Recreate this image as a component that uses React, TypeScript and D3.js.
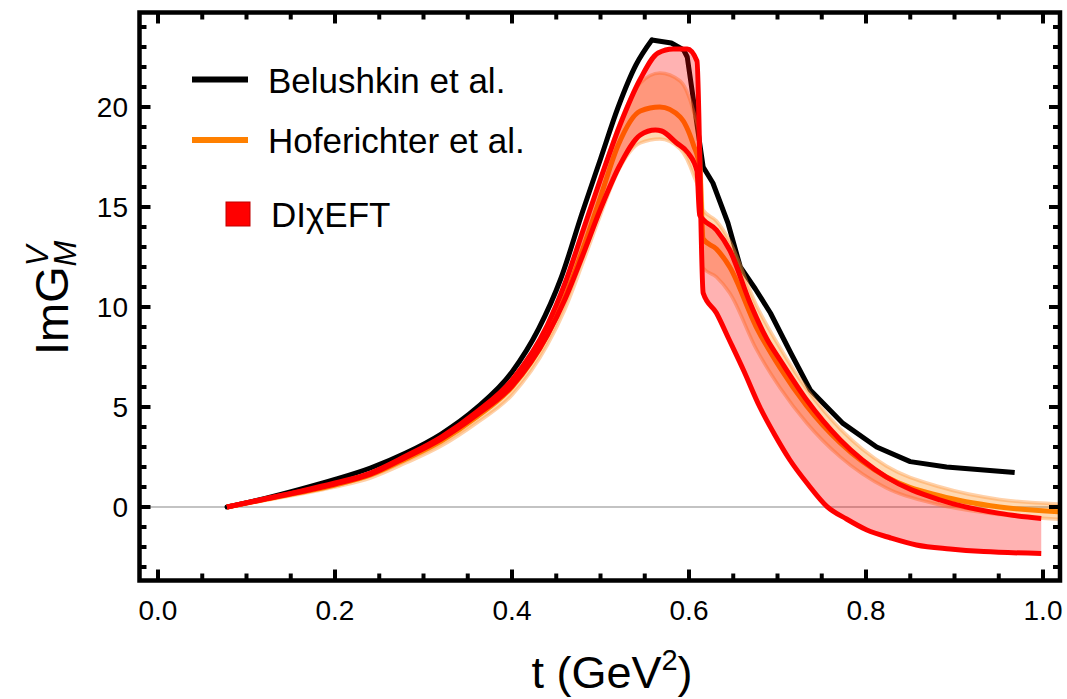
import React from "react";
import * as d3 from "d3";

const W = 1067;
const H = 699;

// axis ticks
const xMajor = [0, 0.2, 0.4, 0.6, 0.8, 1.0];
const xMinor = d3.range(0, 1.001, 0.05);
const yMajor = [0, 5, 10, 15, 20];
const yMinor = d3.range(-3, 24.5, 1);

// Belushkin et al. (rising part is smooth, falling part has visible kinks)
const belRiseT = [0.078, 0.12, 0.16, 0.2, 0.24, 0.28, 0.32, 0.36, 0.4, 0.43, 0.455, 0.48, 0.5, 0.52, 0.54, 0.558];
const belRiseV = [0, 0.42, 0.88, 1.38, 1.95, 2.7, 3.65, 4.95, 6.75, 8.9, 11.4, 14.8, 17.4, 20.0, 22.1, 23.35];
const belFallT = [0.558, 0.58, 0.594, 0.598, 0.616, 0.627, 0.644, 0.658, 0.675, 0.692, 0.715, 0.737, 0.774, 0.812, 0.85, 0.891, 0.968];
const belFallV = [23.35, 23.2, 22.85, 22.5, 17.0, 16.2, 14.2, 12.0, 10.9, 9.7, 7.7, 5.85, 4.18, 3.0, 2.27, 2.0, 1.72];

// Hoferichter et al. (central value and band)
const hofT = [0.078, 0.12, 0.16, 0.2, 0.24, 0.28, 0.32, 0.36, 0.4, 0.44, 0.46, 0.48, 0.5, 0.52, 0.545, 0.567, 0.59, 0.605, 0.612, 0.616, 0.631, 0.646, 0.676, 0.703, 0.733, 0.771, 0.823, 0.884, 0.951, 1.03];
const hofC = [0, 0.37, 0.72, 1.1, 1.6, 2.4, 3.3, 4.5, 6.0, 8.6, 10.5, 12.9, 15.5, 18.1, 19.8, 20.0, 19.5, 18.1, 17.0, 13.4, 12.9, 12.0, 9.0, 6.95, 5.05, 3.2, 1.5, 0.55, 0.0, -0.27];
const hofLo = [0, 0.32, 0.64, 1.0, 1.45, 2.2, 3.05, 4.2, 5.6, 8.1, 9.9, 12.2, 14.6, 16.8, 18.2, 18.4, 17.9, 16.6, 15.6, 11.95, 11.5, 10.7, 7.9, 5.95, 4.2, 2.5, 0.95, 0.1, -0.38, -0.65];
const hofHi = [0, 0.41, 0.78, 1.18, 1.72, 2.55, 3.5, 4.75, 6.3, 9.1, 11.1, 13.6, 16.3, 19.0, 21.2, 21.7, 21.3, 19.8, 18.5, 14.85, 14.3, 13.3, 10.1, 7.95, 5.9, 3.9, 2.05, 1.0, 0.38, 0.13];

// DIχEFT band edges
const chiAT = [0.078, 0.12, 0.16, 0.2, 0.24, 0.28, 0.32, 0.36, 0.4, 0.44, 0.46, 0.48, 0.5, 0.522, 0.545, 0.565, 0.582, 0.598, 0.609, 0.616, 0.631, 0.645, 0.662, 0.68, 0.697, 0.714, 0.735, 0.756, 0.778, 0.801, 0.828, 0.857, 0.895, 0.933, 0.998];
const chiAV = [0, 0.4, 0.78, 1.2, 1.7, 2.55, 3.5, 4.75, 6.35, 9.1, 11.2, 13.8, 16.4, 19.1, 21.4, 22.7, 22.9, 22.9, 22.3, 10.7, 9.7, 8.4, 6.8, 5.0, 3.6, 2.35, 1.1, 0.02, -0.6, -1.15, -1.55, -1.9, -2.1, -2.23, -2.32];
const chiBT = [0.078, 0.12, 0.16, 0.2, 0.24, 0.28, 0.32, 0.36, 0.4, 0.44, 0.46, 0.48, 0.5, 0.522, 0.545, 0.562, 0.569, 0.586, 0.599, 0.609, 0.612, 0.631, 0.646, 0.669, 0.688, 0.703, 0.733, 0.771, 0.823, 0.884, 0.951, 0.998];
const chiBV = [0, 0.39, 0.75, 1.15, 1.64, 2.48, 3.4, 4.6, 6.05, 8.6, 10.4, 12.6, 14.9, 17.1, 18.6, 18.85, 18.8, 18.2, 17.7, 16.8, 14.6, 13.85, 12.85, 10.2, 8.4, 7.35, 5.35, 3.35, 1.5, 0.35, -0.32, -0.57];

const legendItems = ["Belushkin et al.", "Hoferichter et al.", "DIχEFT"];

const App = () => {
  const left = 139.5, right = 1060, top = 12.5, bottom = 580.5;

  const x = d3.scaleLinear().domain([-0.0209, 1.0192]).range([left, right]);
  const y = d3.scaleLinear().domain([-3.675, 24.725]).range([bottom, top]);

  const pts = (ts: number[], vs: number[]) => ts.map((t, i) => [t, vs[i]] as [number, number]);

  const lin = d3.line<[number, number]>().x((d) => x(d[0])).y((d) => y(d[1]));
  const smooth = d3
    .line<[number, number]>()
    .x((d) => x(d[0]))
    .y((d) => y(d[1]))
    .curve(d3.curveMonotoneX);

  const band = (a: [number, number][], b: [number, number][]) => {
    const pa = smooth(a) || "";
    const pb = (smooth(b.slice().reverse()) || "").replace(/^M/, "L");
    return pa + pb + "Z";
  };

  const belRise = pts(belRiseT, belRiseV);
  const belFall = pts(belFallT, belFallV);
  const hc = pts(hofT, hofC);
  const hl = pts(hofT, hofLo);
  const hh = pts(hofT, hofHi);
  const ca = pts(chiAT, chiAV);
  const cb = pts(chiBT, chiBV);

  const font = "'Liberation Sans', Arial, Helvetica, sans-serif";

  return (
    <svg width={W} height={H} style={{ display: "block", position: "absolute", left: 0, top: 0, background: "#fff" }}>
      <defs>
        <clipPath id="plot">
          <rect x={left + 2} y={top + 2} width={right - left - 4} height={bottom - top - 4} />
        </clipPath>
      </defs>

      <g clipPath="url(#plot)">
        {/* zero axis */}
        <line x1={left} x2={right} y1={y(0)} y2={y(0)} stroke="#888" strokeWidth={1.2} />

        <path d={smooth(belRise) || ""} fill="none" stroke="#000" strokeWidth={5} strokeLinecap="round" />
        <path d={lin(belFall) || ""} fill="none" stroke="#000" strokeWidth={5} strokeLinejoin="round" strokeLinecap="butt" />

        {/* Hoferichter band */}
        <path d={band(hh, hl)} fill="#ff8000" fillOpacity={0.3} stroke="none" />
        <path d={smooth(hh) || ""} fill="none" stroke="#ff9a40" strokeOpacity={0.45} strokeWidth={3.5} />
        <path d={smooth(hl) || ""} fill="none" stroke="#ff9a40" strokeOpacity={0.45} strokeWidth={3.5} />
        <path d={smooth(hc) || ""} fill="none" stroke="#ff8000" strokeWidth={5} />

        {/* DIχEFT band */}
        <path d={band(ca, cb)} fill="#ff0000" fillOpacity={0.3} stroke="none" />
        <path d={smooth(ca) || ""} fill="none" stroke="#ff0000" strokeWidth={5} strokeLinejoin="round" />
        <path d={smooth(cb) || ""} fill="none" stroke="#ff0000" strokeWidth={5} strokeLinejoin="round" />
      </g>

      {/* frame ticks */}
      <g stroke="#000" strokeWidth={4}>
        {xMinor.map((t) => {
          const major = xMajor.some((m) => Math.abs(m - t) < 1e-6);
          const len = major ? 11 : 7;
          return (
            <g key={"xt" + t}>
              <line x1={x(t)} x2={x(t)} y1={bottom} y2={bottom - len} />
              <line x1={x(t)} x2={x(t)} y1={top} y2={top + len} />
            </g>
          );
        })}
        {yMinor.map((v) => {
          const major = yMajor.includes(v);
          const len = major ? 11 : 7;
          return (
            <g key={"yt" + v}>
              <line x1={left} x2={left + len} y1={y(v)} y2={y(v)} />
              <line x1={right} x2={right - len} y1={y(v)} y2={y(v)} />
            </g>
          );
        })}
      </g>
      <rect x={left} y={top} width={right - left} height={bottom - top} fill="none" stroke="#000" strokeWidth={4.5} />

      {/* tick labels */}
      <g fontFamily={font} fontSize={28} fill="#000">
        {xMajor.map((t) => (
          <text key={"xl" + t} x={x(t)} y={620} textAnchor="middle">
            {d3.format(".1f")(t)}
          </text>
        ))}
        {yMajor.map((v) => (
          <text key={"yl" + v} x={128} y={y(v) + 10} textAnchor="end">
            {v}
          </text>
        ))}
      </g>

      {/* axis titles */}
      <text x={612} y={688} textAnchor="middle" fontFamily={font} fontSize={45}>
        t (GeV
        <tspan fontSize={29} dy={-18}>2</tspan>
        <tspan dy={18}>)</tspan>
      </text>
      <text transform="translate(68,355) rotate(-90)" fontFamily={font} fontSize={47}>
        ImG
        <tspan fontSize={31} fontStyle="italic" dy={-20}>V</tspan>
        <tspan fontSize={31} fontStyle="italic" dx={-21} dy={28}>M</tspan>
      </text>

      {/* legend */}
      <g fontFamily={font} fontSize={35}>
        <line x1={192} x2={248} y1={79.5} y2={79.5} stroke="#000" strokeWidth={6} />
        <text x={268} y={93}>{legendItems[0]}</text>
        <line x1={192} x2={248} y1={140} y2={140} stroke="#ff8000" strokeWidth={6} />
        <text x={268} y={153}>{legendItems[1]}</text>
        <rect x={226} y={202} width={24} height={24} fill="#ff0000" stroke="#c00000" strokeWidth={1} />
        <text x={271} y={227}>{legendItems[2]}</text>
      </g>
    </svg>
  );
};

export default App;
